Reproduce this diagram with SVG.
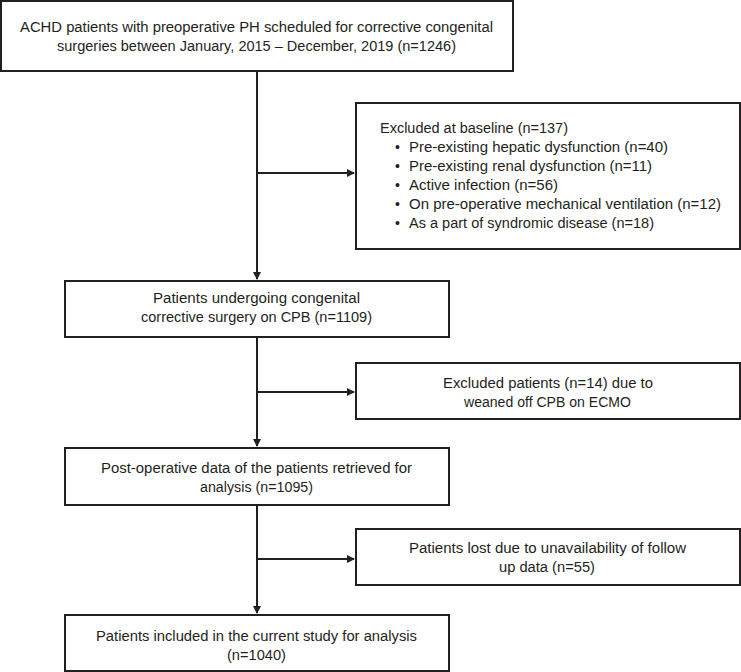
<svg xmlns="http://www.w3.org/2000/svg" width="741" height="672" viewBox="0 0 741 672">
<style>
rect{fill:#fff;stroke:#231f20;stroke-width:2}
text{font-family:"Liberation Sans",Arial,sans-serif;font-size:14px;fill:#231f20}
.c{stroke:#231f20;stroke-width:2;fill:none}
</style>
<defs><marker id="a" markerWidth="8" markerHeight="8" refX="7" refY="4" orient="auto" markerUnits="userSpaceOnUse"><path d="M0,0 L8,4 L0,8 Z" fill="#231f20"/></marker></defs>
<rect width="741" height="672" style="stroke:none"/>
<g id="connectors">
<path class="c" d="M257,71 V279" marker-end="url(#a)"/>
<path class="c" d="M257,173 H354" marker-end="url(#a)"/>
<path class="c" d="M257,337 V446" marker-end="url(#a)"/>
<path class="c" d="M257,392 H354" marker-end="url(#a)"/>
<path class="c" d="M257,505 V613" marker-end="url(#a)"/>
<path class="c" d="M257,559 H354" marker-end="url(#a)"/>
</g>
<g id="n1"><rect x="1" y="1" width="512" height="70"/>
<text x="20" y="32" textLength="473" lengthAdjust="spacingAndGlyphs">ACHD patients with preoperative PH scheduled for corrective congenital</text>
<text x="57" y="51" textLength="399" lengthAdjust="spacingAndGlyphs">surgeries between January, 2015 – December, 2019 (n=1246)</text></g>
<g id="n2"><rect x="356" y="103" width="384" height="146"/>
<text x="380" y="133" textLength="188" lengthAdjust="spacingAndGlyphs">Excluded at baseline (n=137)</text>
<text x="395" y="152">•</text><text x="409" y="152" textLength="259" lengthAdjust="spacingAndGlyphs">Pre-existing hepatic dysfunction (n=40)</text>
<text x="395" y="171">•</text><text x="409" y="171" textLength="243" lengthAdjust="spacingAndGlyphs">Pre-existing renal dysfunction (n=11)</text>
<text x="395" y="190">•</text><text x="409" y="190" textLength="149" lengthAdjust="spacingAndGlyphs">Active infection (n=56)</text>
<text x="395" y="209">•</text><text x="409" y="209" textLength="312" lengthAdjust="spacingAndGlyphs">On pre-operative mechanical ventilation (n=12)</text>
<text x="395" y="228">•</text><text x="409" y="228" textLength="245" lengthAdjust="spacingAndGlyphs">As a part of syndromic disease (n=18)</text></g>
<g id="n3"><rect x="65" y="281" width="384" height="56"/>
<text x="153" y="303" textLength="207" lengthAdjust="spacingAndGlyphs">Patients undergoing congenital</text>
<text x="141" y="322" textLength="231" lengthAdjust="spacingAndGlyphs">corrective surgery on CPB (n=1109)</text></g>
<g id="n4"><rect x="356" y="363" width="384" height="56"/>
<text x="443" y="388" textLength="210" lengthAdjust="spacingAndGlyphs">Excluded patients (n=14) due to</text>
<text x="464" y="407" textLength="167" lengthAdjust="spacingAndGlyphs">weaned off CPB on ECMO</text></g>
<g id="n5"><rect x="65" y="448" width="384" height="57"/>
<text x="101" y="473" textLength="311" lengthAdjust="spacingAndGlyphs">Post-operative data of the patients retrieved for</text>
<text x="200" y="492" textLength="113" lengthAdjust="spacingAndGlyphs">analysis (n=1095)</text></g>
<g id="n6"><rect x="356" y="529" width="384" height="56"/>
<text x="409" y="553" textLength="277" lengthAdjust="spacingAndGlyphs">Patients lost due to unavailability of follow</text>
<text x="499" y="572" textLength="96" lengthAdjust="spacingAndGlyphs">up data (n=55)</text></g>
<g id="n7"><rect x="65" y="615" width="384" height="56"/>
<text x="96" y="641" textLength="321" lengthAdjust="spacingAndGlyphs">Patients included in the current study for analysis</text>
<text x="227" y="660" textLength="59" lengthAdjust="spacingAndGlyphs">(n=1040)</text></g>
</svg>
